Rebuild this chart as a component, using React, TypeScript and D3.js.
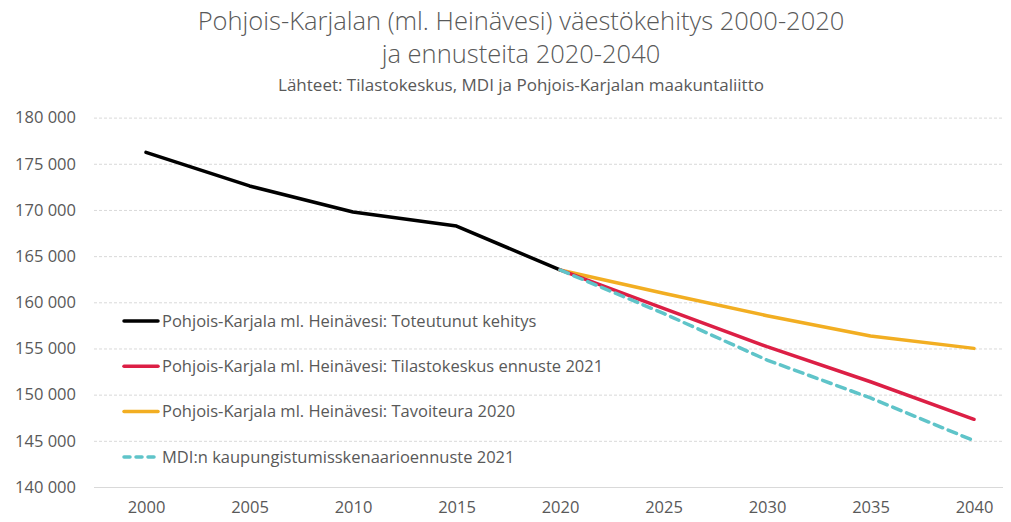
import React, { useEffect, useRef } from 'react'
import * as d3 from 'd3'

// vuodet ja sarjat
const years = ['2000', '2005', '2010', '2015', '2020', '2025', '2030', '2035', '2040']
const toteutunut = [176240, 172600, 169780, 168260, 163500, null, null, null, null]
const tilastokeskus = [null, null, null, null, 163500, 159350, 155200, 151400, 147330]
const tavoiteura = [null, null, null, null, 163500, 160980, 158550, 156350, 155010]
const mdi = [null, null, null, null, 163500, 158800, 153750, 149640, 145010]
const yTicks = [140000, 145000, 150000, 155000, 160000, 165000, 170000, 175000, 180000]

const series = [
  { name: 'Pohjois-Karjala ml. Heinävesi: Toteutunut kehitys', values: toteutunut, color: '#000000', dash: null },
  { name: 'Pohjois-Karjala ml. Heinävesi: Tilastokeskus ennuste 2021', values: tilastokeskus, color: '#dc1f45', dash: null },
  { name: 'Pohjois-Karjala ml. Heinävesi: Tavoiteura 2020', values: tavoiteura, color: '#f2ae22', dash: null },
  { name: 'MDI:n kaupungistumisskenaarioennuste 2021', values: mdi, color: '#5fc4c9', dash: '9,6' },
]
const drawOrder = [0, 2, 1, 3]

export default function App() {
  const svgRef = useRef<SVGSVGElement>(null)

  useEffect(() => {
    const w = 1011
    const h = 522
    const svg = d3.select(svgRef.current)
    svg.selectAll('*').remove()
    svg.attr('width', w).attr('height', h).style('display', 'block').style('background', '#fff')

    const font = '"Open Sans", Lato, sans-serif'
    const grey = '#595959'

    const x = d3.scalePoint<string>().domain(years).range([146, 974])
    const y = d3.scaleLinear().domain([140000, 180000]).range([487, 117.6])

    // otsikot
    svg.append('text').attr('x', 521).attr('y', 30).attr('text-anchor', 'middle')
      .attr('font-family', font).attr('font-weight', 300).attr('font-size', 25.5).attr('fill', grey)
      .text('Pohjois-Karjalan (ml. Heinävesi) väestökehitys 2000-2020')
    svg.append('text').attr('x', 521).attr('y', 63).attr('text-anchor', 'middle')
      .attr('font-family', font).attr('font-weight', 300).attr('font-size', 25.5).attr('fill', grey)
      .text('ja ennusteita 2020-2040')
    svg.append('text').attr('x', 521).attr('y', 91).attr('text-anchor', 'middle')
      .attr('font-family', font).attr('font-size', 17).attr('fill', grey)
      .text('Lähteet: Tilastokeskus, MDI ja Pohjois-Karjalan  maakuntaliitto')

    // y-akseli ja ruudukko
    const yAxis = d3.axisLeft(y).tickValues(yTicks).tickSize(-(w - 94)).tickPadding(18)
      .tickFormat(d => d3.format(',')(d as number).replace(',', ' '))
    const gy = svg.append('g').attr('transform', 'translate(94,0)').call(yAxis)
    gy.select('.domain').remove()
    gy.selectAll('.tick line')
      .attr('stroke', '#d9d9d9').attr('stroke-width', 1)
      .attr('stroke-dasharray', (d: any) => (d === 140000 ? null : '3,2'))
    gy.selectAll('.tick text').attr('font-family', font).attr('font-size', 16.5).attr('fill', grey)

    // x-akseli
    const xAxis = d3.axisBottom(x).tickSize(0).tickPadding(14)
    const gx = svg.append('g').attr('transform', 'translate(0,487)').call(xAxis)
    gx.select('.domain').remove()
    gx.selectAll('.tick text').attr('font-family', font).attr('font-size', 16.5).attr('fill', grey)

    // viivat
    const line = d3.line<number | null>()
      .defined(d => d != null)
      .x((d, i) => x(years[i]) as number)
      .y(d => y(d as number))

    drawOrder.forEach(i => {
      const s = series[i]
      svg.append('path')
        .attr('d', line(s.values))
        .attr('fill', 'none')
        .attr('stroke', s.color)
        .attr('stroke-width', 3.5)
        .attr('stroke-linejoin', 'round')
        .attr('stroke-linecap', 'round')
        .attr('stroke-dasharray', s.dash)
    })

    // selite
    const lg = svg.append('g')
    series.forEach((s, i) => {
      const yy = 321 + i * 45.3
      lg.append('line').attr('x1', 124).attr('x2', 158).attr('y1', yy).attr('y2', yy)
        .attr('stroke', s.color).attr('stroke-width', 3.5).attr('stroke-linecap', 'round')
        .attr('stroke-dasharray', s.dash ? '6,6' : null)
      lg.append('text').attr('x', 162).attr('y', yy).attr('dy', '0.35em')
        .attr('font-family', font).attr('font-size', 16.5).attr('fill', grey)
        .text(s.name)
    })
  }, [])

  return (
    <div style={{ margin: -8 }}>
      <svg ref={svgRef}></svg>
    </div>
  )
}
